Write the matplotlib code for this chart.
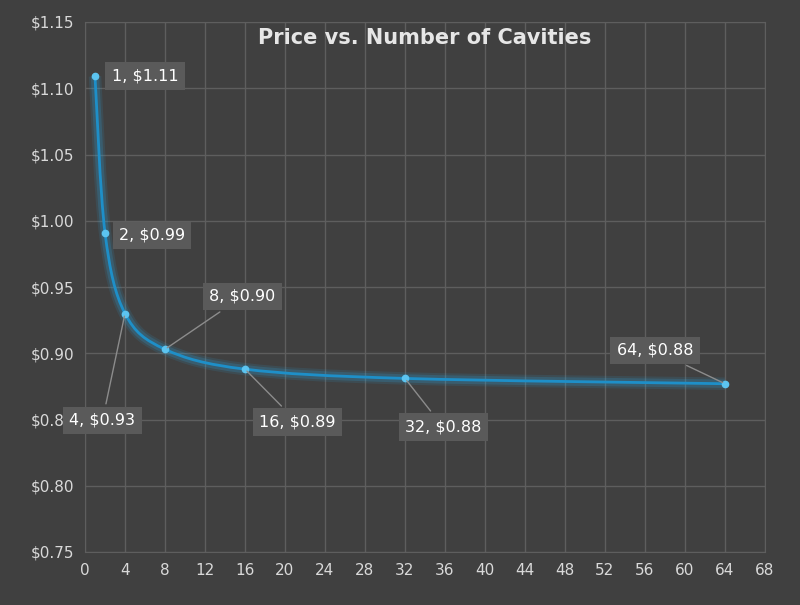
import numpy as np
import matplotlib
matplotlib.use("Agg")
import matplotlib.pyplot as plt
from matplotlib.path import Path
from matplotlib.patches import PathPatch

cavities = [1, 2, 4, 8, 16, 32, 64]
prices = [1.109, 0.991, 0.930, 0.903, 0.888, 0.881, 0.877]
labels = ["1, $1.11", "2, $0.99", "4, $0.93", "8, $0.90", "16, $0.89", "32, $0.88", "64, $0.88"]
# label offsets in points
offsets = [(12, 0), (10, -2), (-40, -77), (32, 38), (10, -38), (0, -35), (-78, 24)]
leader = [False, False, True, True, True, True, True]

bg = "#404040"
fig = plt.figure(figsize=(8, 6.05), dpi=100, facecolor=bg)
ax = fig.add_axes([85/800, 53/605, 680/800, 530/605], facecolor=bg)

ax.set_xlim(0, 68)
ax.set_ylim(0.75, 1.15)
ax.set_xticks(range(0, 69, 4))
ax.set_yticks(np.arange(0.75, 1.151, 0.05))
ax.set_yticklabels([f"${v:.2f}" for v in np.arange(0.75, 1.151, 0.05)])
ax.grid(True, color="#5e5e5e", linewidth=1)
ax.set_axisbelow(True)
for s in ax.spines.values():
    s.set_color("#5e5e5e")
ax.tick_params(colors="#d9d9d9", labelsize=11, length=0, pad=8)

# smooth curve via cubic bezier (Catmull-Rom style control points)
x = np.array(cavities, float)
y = np.array(prices, float)
verts = [(x[0], y[0])]
codes = [Path.MOVETO]
n = len(x)
for i in range(n - 1):
    p0 = (x[max(i-1, 0)], y[max(i-1, 0)])
    p1 = (x[i], y[i])
    p2 = (x[i+1], y[i+1])
    p3 = (x[min(i+2, n-1)], y[min(i+2, n-1)])
    c1 = (p1[0] + (p2[0]-p0[0])/6, p1[1] + (p2[1]-p0[1])/6)
    c2 = (p2[0] - (p3[0]-p1[0])/6, p2[1] - (p3[1]-p1[1])/6)
    c1 = (c1[0], max(c1[1], p2[1]) if i > 0 else c1[1])
    verts += [c1, c2, p2]
    codes += [Path.CURVE4] * 3
path = Path(verts, codes)
for lw, a in [(9, 0.12), (6, 0.2)]:
    ax.add_patch(PathPatch(path, fill=False, edgecolor="#2aa6e0", lw=lw, alpha=a))
ax.add_patch(PathPatch(path, fill=False, edgecolor="#1e8fc8", lw=2))
ax.plot(cavities, prices, "o", color="#5cc4f0", ms=4.5, zorder=5)

for xi, yi, lab, off, ld in zip(cavities, prices, labels, offsets, leader):
    ax.annotate(lab, (xi, yi), xytext=off, textcoords="offset points",
                ha="left", va="center", color="white", fontsize=11.5,
                bbox=dict(boxstyle="square,pad=0.4", fc="#5a5a5a", ec="none"),
                arrowprops=dict(arrowstyle="-", color="#8c8c8c", lw=1) if ld else None,
                zorder=6, annotation_clip=False)

ax.text(0.5, 0.97, "Price vs. Number of Cavities", transform=ax.transAxes,
        ha="center", va="center", color="#e6e6e6", fontsize=15, fontweight="bold")

fig.savefig("out.png", dpi=100, facecolor=bg)
